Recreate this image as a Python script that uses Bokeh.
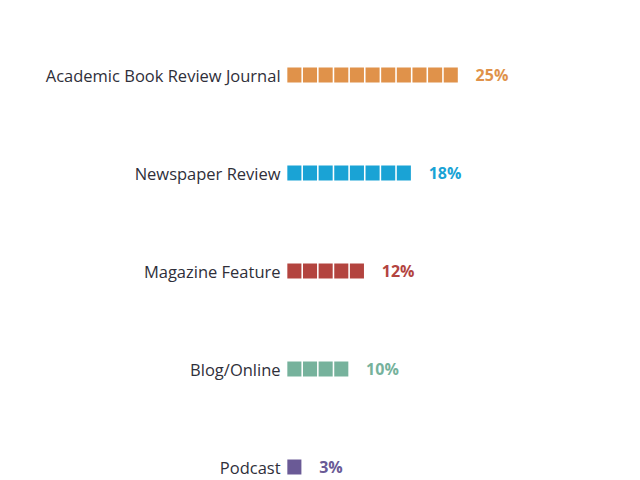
from bokeh.plotting import figure
from bokeh.models import Range1d, ColumnDataSource
from bokeh.core.properties import value
from bokeh.embed import file_html
from bokeh.resources import INLINE

categories = ["Academic Book Review Journal", "Newspaper Review", "Magazine Feature", "Blog/Online", "Podcast"]
shares = [25, 18, 12, 10, 3]
blocks = [11, 8, 5, 4, 1]
colors = ["#E0924A", "#1AA3D5", "#B3443F", "#76B29C", "#6A5A96"]

W, H = 632, 478
S = 98.0
top = -74.5 / S
p = figure(width=W, height=H, output_backend="svg", toolbar_location=None,
           x_range=Range1d(-18.29, 22.12), y_range=Range1d(top + H / S, top),
           min_border=0, outline_line_color=None)
p.axis.visible = False
p.grid.visible = False
p.background_fill_color = "white"
p.border_fill_color = "white"

bx, by, bc = [], [], []
for i, (n, c) in enumerate(zip(blocks, colors)):
    for k in range(n):
        bx.append(k + 0.5)
        by.append(i)
        bc.append(c)
p.rect(x=bx, y=by, width=0.9, height=15, height_units="screen",
       fill_color=bc, line_color=None)

rows = list(range(len(categories)))
src = ColumnDataSource(dict(y=rows, cat=categories, n=blocks,
                            lab=[f"{s}%" for s in shares], col=colors))
p.text(x=0, y="y", text="cat", source=src, x_offset=-6, y_offset=0,
       text_align="right", text_baseline="middle",
       text_font=value("Open Sans"), text_font_size="16.5px", text_color="#2f2f3a")
p.text(x="n", y="y", text="lab", source=src, x_offset=17, y_offset=0,
       text_align="left", text_baseline="middle",
       text_font=value("Open Sans"), text_font_style="bold",
       text_font_size="16px", text_color="col")

open("out.html", "w").write(file_html(p, INLINE))
